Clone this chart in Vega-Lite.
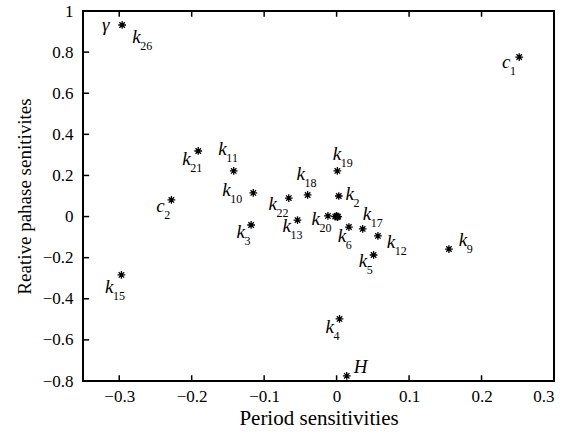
{
  "$schema": "https://vega.github.io/schema/vega-lite/v6.json",
  "width": 471,
  "height": 370,
  "autosize": {"type": "none"},
  "padding": {"left": 83, "top": 11, "right": 23, "bottom": 54},
  "background": "white",
  "config": {
    "view": {"stroke": "black", "strokeWidth": 2, "fill": null},
    "axis": {
      "grid": false,
      "domain": false,
      "ticks": false,
      "offset": -6,
      "labelFont": "Liberation Serif",
      "labelFontSize": 17,
      "labelColor": "black",
      "titleFont": "Liberation Serif",
      "titleFontSize": 19,
      "titleFontWeight": "normal",
      "titleColor": "black"
    }
  },
  "datasets": {
    "xticks": [{"t": -0.3}, {"t": -0.2}, {"t": -0.1}, {"t": 0}, {"t": 0.1}, {"t": 0.2}],
    "yticks": [{"t": -0.6}, {"t": -0.4}, {"t": -0.2}, {"t": 0}, {"t": 0.2}, {"t": 0.4}, {"t": 0.6}, {"t": 0.8}],
    "pts": [
      {"name": "gamma_k26", "x": -0.296, "y": 0.932},
      {"name": "c1", "x": 0.252, "y": 0.776},
      {"name": "k21", "x": -0.191, "y": 0.319},
      {"name": "k11", "x": -0.142, "y": 0.222},
      {"name": "k10", "x": -0.115, "y": 0.115},
      {"name": "c2", "x": -0.228, "y": 0.081},
      {"name": "k3", "x": -0.118, "y": -0.041},
      {"name": "k22", "x": -0.066, "y": 0.09},
      {"name": "k13", "x": -0.054, "y": -0.017},
      {"name": "k18", "x": -0.04, "y": 0.105},
      {"name": "k19", "x": 0.001, "y": 0.222},
      {"name": "k2", "x": 0.003, "y": 0.1},
      {"name": "k20", "x": -0.012, "y": 0.003},
      {"name": "o1", "x": 0.0, "y": 0.003},
      {"name": "o2", "x": 0.002, "y": 0.0},
      {"name": "o3", "x": -0.002, "y": 0.0},
      {"name": "o4", "x": 0.001, "y": -0.003},
      {"name": "k6", "x": 0.017, "y": -0.051},
      {"name": "k17", "x": 0.036, "y": -0.06},
      {"name": "k12", "x": 0.057, "y": -0.094},
      {"name": "k5", "x": 0.051, "y": -0.187},
      {"name": "k9", "x": 0.155, "y": -0.158},
      {"name": "k15", "x": -0.297, "y": -0.284},
      {"name": "k4", "x": 0.004, "y": -0.498},
      {"name": "H", "x": 0.014, "y": -0.775}
    ],
    "labels": [
      {"letter": "γ", "sub": "", "lx": -0.3237, "ly": 0.903},
      {"letter": "k", "sub": "26", "lx": -0.2822, "ly": 0.844},
      {"letter": "c", "sub": "1", "lx": 0.2282, "ly": 0.723},
      {"letter": "k", "sub": "21", "lx": -0.213, "ly": 0.251},
      {"letter": "k", "sub": "11", "lx": -0.1632, "ly": 0.3},
      {"letter": "k", "sub": "10", "lx": -0.1577, "ly": 0.1},
      {"letter": "c", "sub": "2", "lx": -0.249, "ly": 0.022},
      {"letter": "k", "sub": "22", "lx": -0.094, "ly": 0.032},
      {"letter": "k", "sub": "3", "lx": -0.1383, "ly": -0.104},
      {"letter": "k", "sub": "13", "lx": -0.0747, "ly": -0.075},
      {"letter": "k", "sub": "18", "lx": -0.0553, "ly": 0.178},
      {"letter": "k", "sub": "19", "lx": -0.0055, "ly": 0.275},
      {"letter": "k", "sub": "2", "lx": 0.0124, "ly": 0.081},
      {"letter": "k", "sub": "20", "lx": -0.0346, "ly": -0.041},
      {"letter": "k", "sub": "17", "lx": 0.036, "ly": -0.017},
      {"letter": "k", "sub": "6", "lx": 0.0014, "ly": -0.124},
      {"letter": "k", "sub": "12", "lx": 0.0692, "ly": -0.153},
      {"letter": "k", "sub": "5", "lx": 0.0304, "ly": -0.245},
      {"letter": "k", "sub": "9", "lx": 0.1687, "ly": -0.143},
      {"letter": "k", "sub": "15", "lx": -0.3195, "ly": -0.372},
      {"letter": "k", "sub": "4", "lx": -0.0152, "ly": -0.566},
      {"letter": "H", "sub": "", "lx": 0.0235, "ly": -0.761}
    ]
  },
  "resolve": {"axis": {"x": "independent", "y": "independent"}},
  "layer": [
    {
      "data": {"name": "pts"},
      "mark": {
        "type": "point",
        "shape": "M-1,0L1,0M0,-1L0,1M-0.7,-0.7L0.7,0.7M-0.7,0.7L0.7,-0.7",
        "filled": false,
        "stroke": "black",
        "strokeWidth": 1.3,
        "size": 60,
        "opacity": 1
      },
      "encoding": {
        "x": {
          "field": "x", "type": "quantitative",
          "scale": {"domain": [-0.35, 0.3], "nice": false, "zero": false},
          "axis": {"title": "Period sensitivities", "titleFontSize": 21, "values": [-0.3, -0.2, -0.1, 0, 0.1, 0.2, 0.3], "format": ".1~f", "labelPadding": 13, "titlePadding": 3}
        },
        "y": {
          "field": "y", "type": "quantitative",
          "scale": {"domain": [-0.8, 1], "nice": false, "zero": false},
          "axis": {"title": "Reative pahase senitivites", "values": [-0.8, -0.6, -0.4, -0.2, 0, 0.2, 0.4, 0.6, 0.8, 1], "format": ".1~f", "labelPadding": 16, "titlePadding": 8}
        }
      }
    },
    {
      "data": {"name": "xticks"},
      "mark": {"type": "rule", "color": "black", "strokeWidth": 1.5},
      "encoding": {
        "x": {"field": "t", "type": "quantitative", "axis": null},
        "y": {"datum": -0.8, "axis": null},
        "y2": {"datum": -0.772}
      }
    },
    {
      "data": {"name": "xticks"},
      "mark": {"type": "rule", "color": "black", "strokeWidth": 1.5},
      "encoding": {
        "x": {"field": "t", "type": "quantitative", "axis": null},
        "y": {"datum": 1, "axis": null},
        "y2": {"datum": 0.972}
      }
    },
    {
      "data": {"name": "yticks"},
      "mark": {"type": "rule", "color": "black", "strokeWidth": 1.5},
      "encoding": {
        "y": {"field": "t", "type": "quantitative", "axis": null},
        "x": {"datum": -0.35, "axis": null},
        "x2": {"datum": -0.3415}
      }
    },
    {
      "data": {"name": "labels"},
      "mark": {"type": "text", "font": "Liberation Serif", "fontStyle": "italic", "fontSize": 19, "align": "left", "baseline": "alphabetic", "color": "black"},
      "encoding": {
        "x": {"field": "lx", "type": "quantitative", "axis": null},
        "y": {"field": "ly", "type": "quantitative", "axis": null},
        "text": {"field": "letter"}
      }
    },
    {
      "data": {"name": "labels"},
      "mark": {"type": "text", "font": "Liberation Serif", "fontSize": 12, "align": "left", "baseline": "alphabetic", "color": "black", "dx": 8, "dy": 7},
      "encoding": {
        "x": {"field": "lx", "type": "quantitative", "axis": null},
        "y": {"field": "ly", "type": "quantitative", "axis": null},
        "text": {"field": "sub"}
      }
    }
  ]
}
